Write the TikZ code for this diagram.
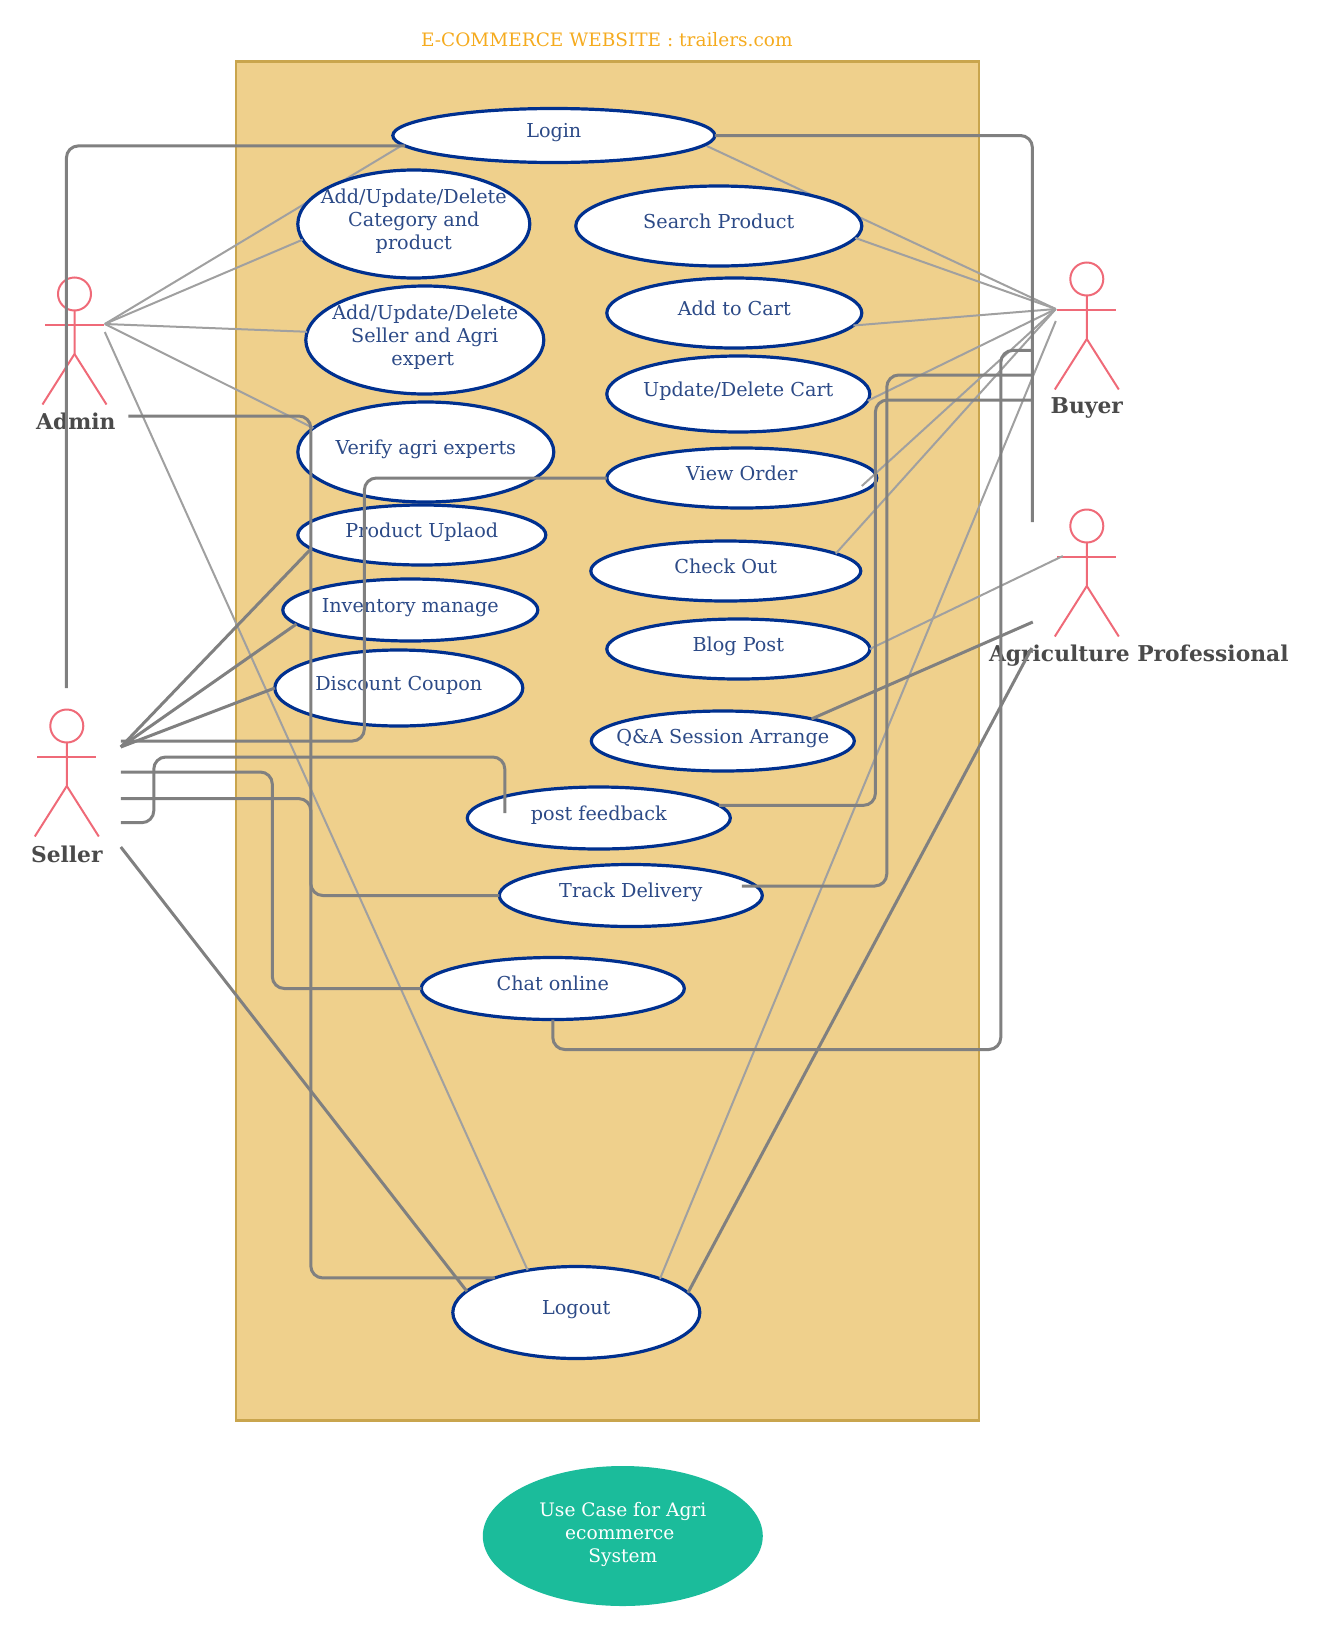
\documentclass[tikz,border=0pt]{standalone}
\usepackage{fontspec}
\setmainfont{DejaVu Serif}
\usetikzlibrary{shapes.geometric,calc}
\definecolor{framefill}{HTML}{EFD08C}
\definecolor{framedraw}{HTML}{C9A54D}
\definecolor{titlecol}{HTML}{F5AB1F}
\definecolor{ucdraw}{HTML}{00308F}
\definecolor{uctext}{HTML}{2C4A87}
\definecolor{actorcol}{HTML}{EF6A78}
\definecolor{actortext}{HTML}{4A4A4A}
\definecolor{darkline}{HTML}{808080}
\definecolor{lightline}{HTML}{A0A0A0}
\definecolor{notefill}{HTML}{1BBC9B}
\newcommand{\uclabel}[1]{\makebox[0pt]{\smash{\raisebox{-3pt}{\begin{tabular}{@{}c@{}}#1\end{tabular}}}}}
\newcommand{\stickman}[3]{%
  \node[actorhead] (#1) at (#2,#3) {};
  \draw[actorline] (#1.south) -- ++(0,43.5) coordinate (#1hip) -- ++(-32,50.5);
  \draw[actorline] (#1hip) -- ++(32,50.5);
  \draw[actorline] ($(#1hip)+(-29.5,-29)$) -- ++(59,0);
}
\tikzset{
  x=1pt,y=-1pt,
  framebox/.style={draw=framedraw,fill=framefill,line width=2.5pt,inner sep=0,outer sep=0},
  usecase/.style={ellipse,draw=ucdraw,fill=white,line width=3.2pt,inner sep=0,outer sep=0,text=uctext,font=\fontsize{19.2}{23}\selectfont},
  actorhead/.style={circle,draw=actorcol,line width=2pt,minimum size=33pt,inner sep=0,outer sep=0},
  actorline/.style={draw=actorcol,line width=2pt},
  actorlabel/.style={text=actortext,font=\fontsize{21.8}{25}\selectfont\bfseries,inner sep=0},
  darkconn/.style={draw=darkline,line width=3pt,rounded corners=12pt},
  lightconn/.style={draw=lightline,line width=2pt},
  notebox/.style={ellipse,fill=notefill,text=white,inner sep=0,font=\fontsize{18.6}{23}\selectfont},
}
\begin{document}
\begin{tikzpicture}
\useasboundingbox (-0.8,0) rectangle (1319.2,1638);
\node[framebox,minimum width=743pt,minimum height=1359pt] (frame) at (606.5,741) {};
\node[text=titlecol,font=\fontsize{18.5}{22}\selectfont,inner sep=0] (title) at (606,39.5) {E-COMMERCE WEBSITE : trailers.com};

% actors
\stickman{admin}{73.7}{294}
\stickman{buyer}{1086}{279}
\stickman{agri}{1086}{526}
\stickman{seller}{66}{726}
\node[actorlabel] (adminlabel) at (75,421.5) {Admin};
\node[actorlabel] (buyerlabel) at (1086,408) {Buyer};
\node[actorlabel] (agrilabel) at (1138,655.5) {Agriculture Professional};
\node[actorlabel] (sellerlabel) at (66,854) {Seller};

% free ends
\coordinate (adminhub) at (104,324);
\coordinate (adminlow) at (104,332);
\coordinate (adminside) at (127.5,416);
\coordinate (buyerhub) at (1055,309);
\coordinate (buyerlow) at (1055,321);
\coordinate (agrihand) at (1062,556);
\coordinate (sellertop) at (65.6,688);
\coordinate (sellerfan) at (120,747);
\coordinate (sellerview) at (120,741);
\coordinate (sellerchat) at (120,772);
\coordinate (sellertrack) at (120,798.6);
\coordinate (sellerpost) at (120,822.7);
\coordinate (sellerout) at (120,847);
\coordinate (busbottom) at (1031.6,522);
\coordinate (busa) at (1031.6,350.4);
\coordinate (busb) at (1031.6,375);
\coordinate (busc) at (1031.6,400);
\coordinate (qaend) at (1032,622);
\coordinate (logoutend) at (1031,648);
\coordinate (viewin) at (861,486);
\coordinate (postin) at (504,813);
\coordinate (trackin) at (741,886);
\coordinate (loginleft) at (401.6,145.1);
\coordinate (loginright) at (706,146);

% connectors that pass behind the use cases
\draw[lightconn] (adminhub) -- (loginleft);
\draw[lightconn] (buyerhub) -- (loginright);

% use cases
\node[usecase,minimum width=322pt,minimum height=54pt] (login) at (553,135.5) {\uclabel{Login}};
\node[usecase,minimum width=232pt,minimum height=108pt] (cat) at (413,224) {\uclabel{Add/Update/Delete\\Category and\\product}};
\node[usecase,minimum width=238pt,minimum height=108pt] (sellerman) at (424,340) {\uclabel{\kern1pt Add/Update/Delete\\Seller and Agri\\expert\kern4pt}};
\node[usecase,minimum width=256pt,minimum height=100pt] (verify) at (425,452) {\uclabel{Verify agri experts}};
\node[usecase,minimum width=248pt,minimum height=60pt] (product) at (421,535) {\uclabel{Product Uplaod}};
\node[usecase,minimum width=255pt,minimum height=62pt] (inventory) at (409.5,610) {\uclabel{Inventory manage}};
\node[usecase,minimum width=248pt,minimum height=76pt] (discount) at (398,688) {\uclabel{Discount Coupon}};
\node[usecase,minimum width=286pt,minimum height=80pt] (search) at (718,226) {\uclabel{Search Product}};
\node[usecase,minimum width=255pt,minimum height=70pt] (cart) at (733.5,313) {\uclabel{Add to Cart}};
\node[usecase,minimum width=263pt,minimum height=76pt] (update) at (737.5,394) {\uclabel{Update/Delete Cart}};
\node[usecase,minimum width=270pt,minimum height=60pt] (view) at (741,478) {\uclabel{View Order}};
\node[usecase,minimum width=270pt,minimum height=60pt] (check) at (725,571) {\uclabel{Check Out}};
\node[usecase,minimum width=263pt,minimum height=60pt] (blog) at (737.5,649) {\uclabel{Blog Post}};
\node[usecase,minimum width=263pt,minimum height=60pt] (qa) at (722,741) {\uclabel{Q\&A Session Arrange}};
\node[usecase,minimum width=263pt,minimum height=62pt] (post) at (598,818) {\uclabel{post feedback}};
\node[usecase,minimum width=263pt,minimum height=62pt] (track) at (630,895.5) {\uclabel{Track Delivery}};
\node[usecase,minimum width=263pt,minimum height=62pt] (chat) at (552,988.5) {\uclabel{Chat online}};
\node[usecase,minimum width=247pt,minimum height=92pt] (logout) at (575.5,1312.5) {\uclabel{Logout}};
\node[notebox,minimum width=280pt,minimum height=140pt] (note) at (622,1536) {\uclabel{Use Case for Agri\\ecommerce\kern6pt\\System}};

% light connectors
\draw[lightconn] (adminhub) -- (cat.188.4);
\draw[lightconn] (adminhub) -- (sellerman.176.2);
\draw[lightconn] (adminhub) -- (verify.168.8);
\draw[lightconn] (adminlow) -- (logout.139);
\draw[lightconn] (buyerhub) -- (search.-5.8);
\draw[lightconn] (buyerhub) -- (cart.-6);
\draw[lightconn] (buyerhub) -- (update.-3.9);
\draw[lightconn] (buyerhub) -- (viewin);
\draw[lightconn] (buyerhub) -- (check.9.5);
\draw[lightconn] (buyerlow) -- (logout.22);
\draw[lightconn] (agrihand) -- (blog.east);

% dark connectors
\draw[darkconn] (sellertop) |- (login.184.3);
\draw[darkconn] (login.east) -| (busbottom);
\draw[darkconn] (adminside) -| (310,600) |- (logout.157.8);
\draw[darkconn] (sellerview) -| (363.6,600) |- (view.west);
\draw[darkconn] (sellerfan) -- (product.187.3);
\draw[darkconn] (sellerfan) -- (inventory.187);
\draw[darkconn] (sellerfan) -- (discount.west);
\draw[darkconn] (sellerchat) -| (271.5,900) |- (chat.west);
\draw[darkconn] (sellertrack) -| (310,850) |- (track.west);
\draw[darkconn] (sellerpost) -| (153,790) |- (504,757) -- (postin);
\draw[darkconn] (sellerout) -- (logout.169.4);
\draw[darkconn] (trackin) -| (886,600) |- (busb);
\draw[darkconn] (post.6.5) -| (874.6,600) |- (busc);
\draw[darkconn] (chat.south) |- (700,1049.5) -| (1000,700) |- (busa);
\draw[darkconn] (qa.14.6) -- (qaend);
\draw[darkconn] (logout.10.5) -- (logoutend);
\end{tikzpicture}
\end{document}
